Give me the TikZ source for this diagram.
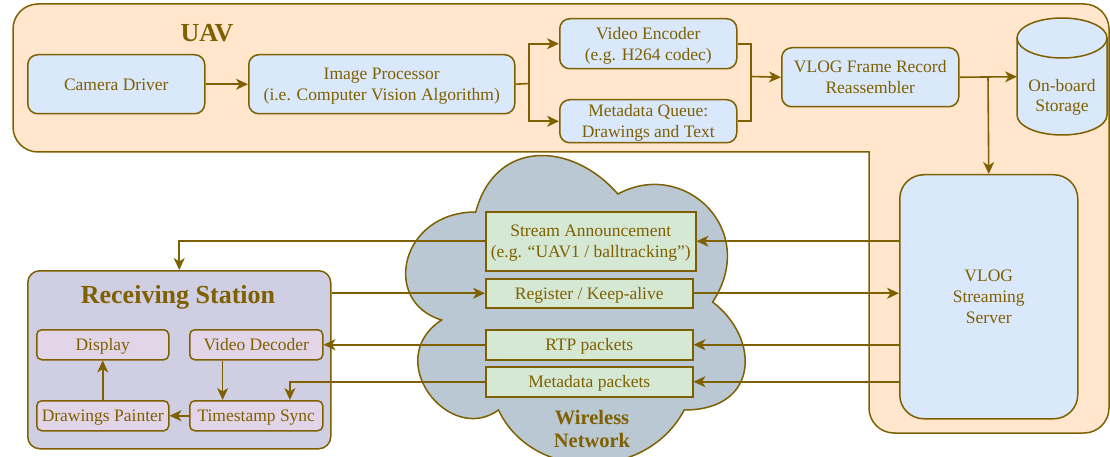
\documentclass[tikz,border=0pt]{standalone}
\usepackage{fontspec}
\setmainfont{Liberation Serif}
\definecolor{uavBrown}{HTML}{7F6000}
\definecolor{uavOrange}{HTML}{FFE6CC}
\definecolor{uavBlue}{HTML}{DAE8FC}
\definecolor{netGreen}{HTML}{D5E8D4}
\definecolor{netCloud}{HTML}{BAC8D3}
\definecolor{rxLilac}{HTML}{D0CEE2}
\definecolor{rxPink}{HTML}{E1D5E7}
\usepackage{tikz}
\usetikzlibrary{arrows.meta, calc}

\begin{document}
\begin{tikzpicture}[x=1pt, y=-1pt]
                \tikzset{
                    blockbox/.style={rectangle, draw=uavBrown, line width=1.5pt, rounded corners=10pt, fill=uavBlue,
                        text=uavBrown, align=center, inner sep=0pt, text depth=0pt, anchor=north west,
                        font=\fontsize{17.5}{21}\selectfont},
                    pktbox/.style={blockbox, sharp corners, fill=netGreen},
                    rxbox/.style={blockbox, rounded corners=5pt, fill=rxPink},
                    wire/.style={draw=uavBrown, line width=1.6pt},
                    flow/.style={wire, -{Stealth[length=12pt, width=11pt, inset=3.5pt]}},
                    heading/.style={text=uavBrown, align=center, font=\fontsize{26}{30}\selectfont\bfseries},
                }
                \useasboundingbox (0,0) rectangle (1110,457);

                % UAV area (band on top, column on the right)
                \draw[wire, line width=1.5pt, fill=uavOrange, line cap=rect] (869,152) [rounded corners=25pt] -- (13,152) -- (13,4)
                    -- (1109,4) -- (1109,433) -- (869,433) -- (869,152);
                \node[heading] (uavtitle) at (207,33) {UAV};

                % Wireless network cloud
                \draw[wire, line width=1.5pt, fill=netCloud] (475.75,212) .. controls (399.95,212) and (381,302) .. (441.6,320)
                    .. controls (381,359.6) and (449.2,446) .. (498.5,410)
                    .. controls (532.6,482) and (646.3,482) .. (684.2,410)
                    .. controls (760,410) and (760,338) .. (712.6,302)
                    .. controls (760,230) and (684.2,158) .. (617.9,194)
                    .. controls (570.5,140) and (494.7,140) .. (475.75,212) -- cycle;
                \node[heading, font=\fontsize{20.5}{22.5}\selectfont\bfseries] (wlan) at (592,429) {Wireless\\Network};

                % On-board processing chain
                \node[blockbox, minimum width=177pt, minimum height=59pt] (cam) at (27,54) {Camera Driver};
                \node[blockbox, minimum width=266pt, minimum height=59pt] (improc) at (248,54) {Image Processor\\(i.e. Computer Vision Algorithm)};
                \node[blockbox, minimum width=177pt, minimum height=50pt] (venc) at (559,18) {Video Encoder\\(e.g. H264 codec)};
                \node[blockbox, minimum width=177pt, minimum height=43pt] (mqueue) at (559,99) {Metadata Queue:\\Drawings and Text};
                \node[blockbox, minimum width=177pt, minimum height=59pt] (reasm) at (781,47) {VLOG Frame Record\\Reassembler};
                \node[blockbox, rounded corners=24pt, minimum width=178pt, minimum height=244pt] (server) at (899,174) {VLOG\\Streaming\\Server};

                % Storage cylinder
                \fill[uavBlue] (1017,38) -- (1017,115) arc[start angle=180, end angle=0, x radius=45, y radius=20]
                    -- (1107,38) arc[start angle=0, end angle=-180, x radius=45, y radius=20] -- cycle;
                \draw[wire, line width=1.5pt] (1017,38) -- (1017,115) arc[start angle=180, end angle=0, x radius=45, y radius=20] -- (1107,38);
                \draw[wire, line width=1.5pt] (1062,38) ellipse[x radius=45, y radius=20];
                \node[inner sep=0pt, minimum width=90pt, minimum height=117pt, anchor=north west] (storage) at (1017,18) {};
                \node[text=uavBrown, align=center, font=\fontsize{17.5}{19.5}\selectfont] (storagelbl) at (1062,97.5) {On-board\\Storage};

                % Packets on the link
                \node[pktbox, minimum width=210pt, minimum height=59pt] (announce) at (485,211) {Stream Announcement\\(e.g. “UAV1 / balltracking”)};
                \node[pktbox, minimum width=207pt, minimum height=29pt] (register) at (485,278) {Register / Keep-alive};
                \node[pktbox, minimum width=207pt, minimum height=30pt] (rtp) at (485,329) {RTP packets};
                \node[pktbox, minimum width=207pt, minimum height=30pt] (metapkt) at (485,366) {Metadata packets};

                % Receiving station
                \node[blockbox, rounded corners=12pt, fill=rxLilac, minimum width=303pt, minimum height=178pt] (rx) at (27,270) {};
                \node[heading] (rxtitle) at (178,297) {Receiving Station};
                \node[rxbox, minimum width=132pt, minimum height=30pt] (display) at (36,329) {Display};
                \node[rxbox, minimum width=133pt, minimum height=30pt] (vdec) at (189,329) {Video Decoder};
                \node[rxbox, minimum width=132pt, minimum height=30pt] (painter) at (36,400) {Drawings Painter};
                \node[rxbox, minimum width=133pt, minimum height=30pt] (tsync) at (189,400) {Timestamp Sync};

                % UAV connectors
                \coordinate (fork) at (529,83.5);
                \coordinate (join) at (751,76.5);
                \coordinate (tap) at (988,76.5);
                \draw[flow] (cam.east) -- (improc.west);
                \draw[wire] (improc.east) -- (fork);
                \draw[flow] (fork) |- (venc.west);
                \draw[flow] (fork) |- (mqueue.west);
                \draw[wire] (venc.east) -| (join);
                \draw[wire] (mqueue.east) -| (join);
                \draw[flow] (join) -- (reasm.west);
                \draw[flow] (reasm.east) -- (storage.west);
                \draw[flow] (tap) -- (server.north);

                % Link connectors
                \draw[flow] (server.west |- announce.east) -- (announce.east);
                \draw[flow] (announce.west) -| (rx.north);
                \draw[flow] (rx.east |- register.west) -- (register.west);
                \draw[flow] (register.east) -- (server.west |- register.east);
                \draw[flow] (server.west |- rtp.east) -- (rtp.east);
                \draw[flow] (rtp.west) -- (vdec.east);
                \draw[flow] (server.west |- metapkt.east) -- (metapkt.east);
                \draw[flow] (metapkt.west) -| ($(tsync.north)!0.5!(tsync.north east)$);

                % Station connectors
                \draw[flow] ($(vdec.south)!0.5!(vdec.south west)$) -- ($(tsync.north)!0.5!(tsync.north west)$);
                \draw[flow] (tsync.west) -- (painter.east);
                \draw[flow] (painter.north) -- (display.south);
            \end{tikzpicture}
\end{document}
